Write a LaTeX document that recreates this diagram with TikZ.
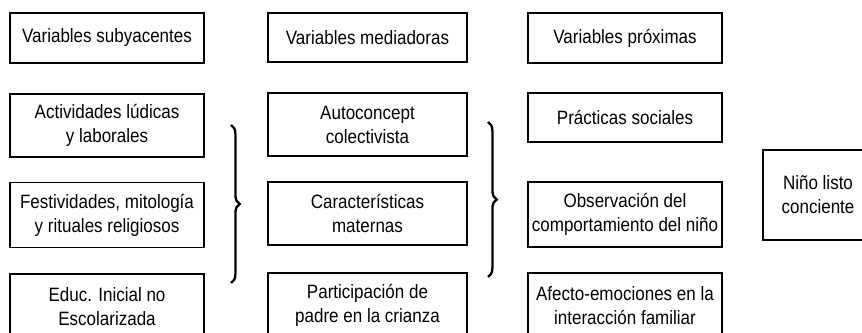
\documentclass[tikz,border=0pt]{standalone}
\usepackage{fontspec}
\setmainfont{Liberation Sans}[FakeStretch=0.88]
\usetikzlibrary{decorations.pathreplacing}

\begin{document}
\begin{tikzpicture}[x=0.02cm,y=-0.02cm,thick,box node/.style={rectangle,draw,line width=0.9pt,align=center,inner sep=0pt,font=\fontsize{11}{13.7}\selectfont},brace/.style={decorate,decoration={brace,amplitude=5pt},line width=1.3pt}]

            \useasboundingbox (0,0) rectangle (862,333);
            \clip (0,0) rectangle (862,333);

            % column 1
            \node[box node, minimum width=3.88cm, minimum height=1cm] (1) at (107,38) {Variables subyacentes};
            \node[box node, minimum width=3.88cm, minimum height=1.26cm] (2) at (107,125.5) {Actividades lúdicas\\y laborales};
            \node[box node, minimum width=3.88cm, minimum height=1.3cm] (3) at (107,215) {Festividades, mitología\\y rituales religiosos};
            \node[box node, minimum width=3.88cm, minimum height=1.3cm] (4) at (107,306.5) {Educ. Inicial no\\Escolarizada};

            % column 2
            \node[box node, minimum width=3.98cm, minimum height=0.98cm] (5) at (367.5,37.5) {Variables mediadoras};
            \node[box node, minimum width=3.98cm, minimum height=1.26cm] (6) at (367.5,124.5) {Autoconcept\\colectivista};
            \node[box node, minimum width=3.98cm, minimum height=1.26cm] (7) at (367.5,213.5) {Características\\maternas};
            \node[box node, minimum width=3.98cm, minimum height=1.3cm] (8) at (367.5,305.5) {Participación de\\padre en la crianza};

            % column 3
            \node[box node, minimum width=3.88cm, minimum height=1cm] (9) at (625,38) {Variables próximas};
            \node[box node, minimum width=3.88cm, minimum height=0.98cm] (10) at (625,117.5) {Prácticas sociales};
            \node[box node, minimum width=3.88cm, minimum height=1.3cm] (11) at (625,214.5) {Observación del\\comportamiento del niño};
            \node[box node, minimum width=3.88cm, minimum height=1.3cm] (12) at (625,305.5) {Afecto-emociones en la\\interacción familiar};

            \node[box node, minimum width=2.2cm, minimum height=1.8cm] (13) at (818,195) {Niño listo\\conciente};

            % braces
            \coordinate (b1) at (231,125);
            \coordinate (b2) at (231,283);
            \coordinate (b3) at (488,122);
            \coordinate (b4) at (488,277);

            \draw[brace] (b1) to (b2);
            \draw[brace] (b3) to (b4);

            ;
        \end{tikzpicture}
\end{document}
